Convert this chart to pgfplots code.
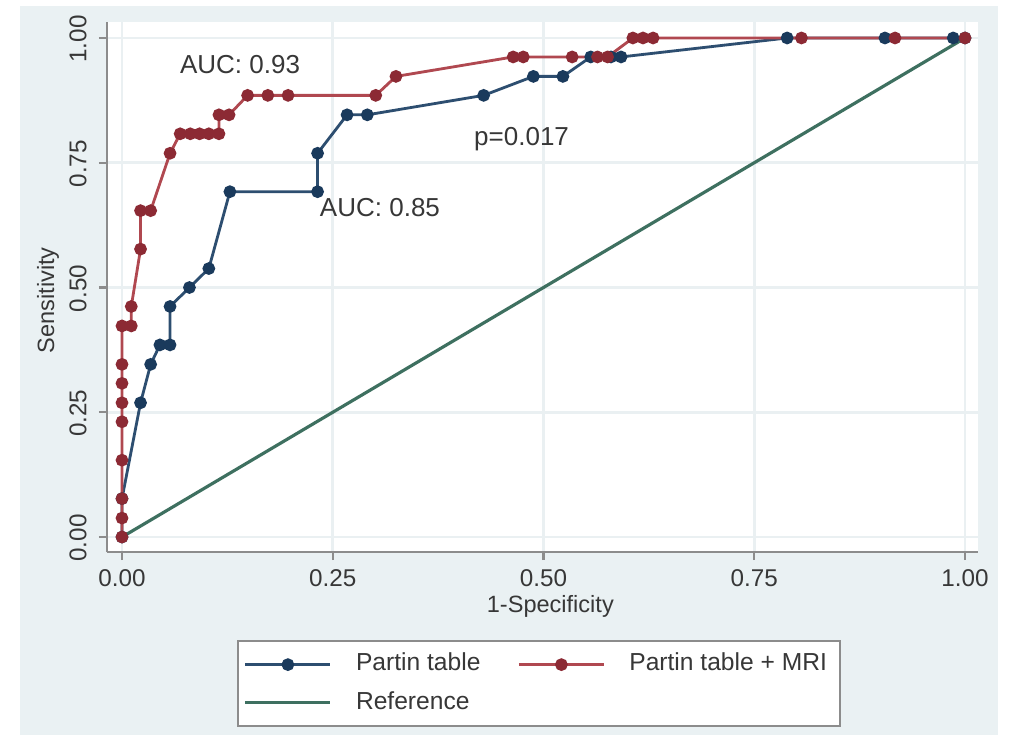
\documentclass[border=0pt]{standalone}
\usepackage{pgfplots}
\pgfplotsset{compat=1.18}
\usepackage{fontspec}
\setmainfont{Liberation Sans}

\definecolor{bgc}{RGB}{234,241,243}
\definecolor{navyl}{RGB}{45,78,112}
\definecolor{navym}{RGB}{26,58,92}
\definecolor{maroonl}{RGB}{176,72,80}
\definecolor{maroonm}{RGB}{140,42,52}
\definecolor{refg}{RGB}{62,112,96}
\definecolor{gridc}{RGB}{234,240,242}
\definecolor{axc}{RGB}{140,140,140}
\definecolor{txt}{RGB}{55,55,55}

\begin{document}
\begin{tikzpicture}
% axis box south west at (0,0); 1 px of the reference = 0.01 cm
\fill[white] (-1.07,5.52) rectangle (9.03,-1.83);
\fill[bgc] (-0.87,5.46) rectangle (8.91,-1.83);
\begin{axis}[
  scale only axis, width=8.71cm, height=5.30cm,
  xmin=-0.0178, xmax=1.0154, ymin=-0.030, ymax=1.032,
  axis x line*=bottom, axis y line*=left,
  axis line style={axc, line width=0.7pt},
  axis background/.style={fill=white},
  xtick={0,0.25,0.5,0.75,1}, xticklabels={0.00,0.25,0.50,0.75,1.00},
  ytick={0,0.25,0.5,0.75,1}, yticklabels={0.00,0.25,0.50,0.75,1.00},
  tick align=outside, major tick length=0.08cm,
  tick style={axc, line width=0.6pt},
  grid=major, grid style={gridc, line width=0.8pt},
  tick label style={font=\fontsize{6.9}{8}\selectfont, text=txt},
  xticklabel style={anchor=north, yshift=0.03cm},
  yticklabel style={rotate=90, anchor=south, xshift=-0.01cm},
  xlabel={1-Specificity}, ylabel={Sensitivity},
  label style={font=\fontsize{6.7}{8}\selectfont, text=txt},
  xlabel style={at={(axis description cs:0.509,-0.102)}, anchor=center},
  ylabel style={at={(axis description cs:-0.0677,0.475)}, anchor=center},
  legend columns=2,
  legend cell align=left,
  legend style={at={(0.149,-0.166)}, anchor=north west, draw=axc, fill=white,
    line width=0.6pt, font=\fontsize{7}{8.5}\selectfont, text=txt,
    inner xsep=0.06cm, inner ysep=0.05cm,
    /tikz/every odd column/.append style={column sep=0.17cm},
    /tikz/every even column/.append style={column sep=0.30cm},
    row sep=0.01cm},
  legend image code/.code={\draw[mark repeat=2,mark phase=2,#1] plot coordinates {(0cm,0cm) (0.425cm,0cm) (0.85cm,0cm)};},
  clip=false,
]
\addplot[navyl, line width=0.8pt, mark=*, mark size=1.4pt, mark options={navym, fill=navym}] coordinates {
(0,0) (0,0.077) (0.022,0.269) (0.034,0.346) (0.045,0.385) (0.057,0.385)
(0.057,0.462) (0.080,0.500) (0.103,0.538) (0.128,0.692) (0.232,0.692)
(0.232,0.769) (0.267,0.846) (0.291,0.846) (0.429,0.885) (0.488,0.923)
(0.523,0.923) (0.556,0.962) (0.580,0.962) (0.592,0.962) (0.789,1)
(0.905,1) (0.986,1) (1,1)};
\addlegendentry{Partin table}
\addplot[maroonl, line width=0.8pt, mark=*, mark size=1.4pt, mark options={maroonm, fill=maroonm}] coordinates {
(0,0) (0,0.038) (0,0.077) (0,0.154) (0,0.231) (0,0.269) (0,0.308) (0,0.346)
(0,0.423) (0.011,0.423) (0.011,0.462) (0.022,0.577) (0.022,0.654) (0.034,0.654)
(0.057,0.769) (0.069,0.808) (0.081,0.808) (0.092,0.808) (0.103,0.808) (0.115,0.808)
(0.115,0.846) (0.127,0.846) (0.149,0.885) (0.173,0.885) (0.197,0.885) (0.301,0.885)
(0.325,0.923) (0.464,0.962) (0.476,0.962) (0.534,0.962) (0.564,0.962) (0.576,0.962)
(0.606,1) (0.618,1) (0.630,1) (0.806,1) (0.917,1) (1,1)};
\addlegendentry{Partin table + MRI}
\addplot[refg, line width=0.9pt] coordinates {(0,0) (1,1)};
\addlegendentry{Reference}
\node[font=\fontsize{7.4}{9}\selectfont, text=txt] at (axis cs:0.140,0.946) {AUC: 0.93};
\node[font=\fontsize{7.4}{9}\selectfont, text=txt] at (axis cs:0.306,0.661) {AUC: 0.85};
\node[font=\fontsize{7.4}{9}\selectfont, text=txt] at (axis cs:0.474,0.798) {p=0.017};
\end{axis}
\end{tikzpicture}
\end{document}
